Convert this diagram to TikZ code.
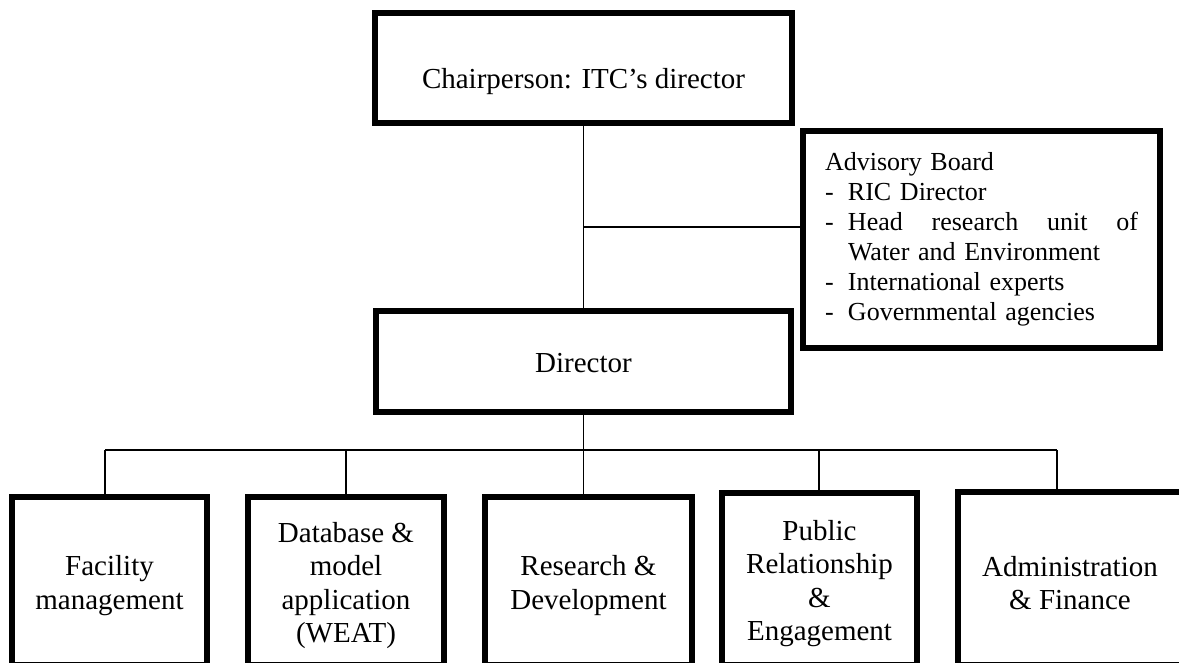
\documentclass[tikz,border=0pt]{standalone}
\usepackage{fontspec}
\setmainfont{Liberation Serif}
\newcommand{\liftstrut}{\rule{0pt}{29pt}}
\begin{document}
\begin{tikzpicture}[x=1pt,y=-1pt,
	box/.style={draw,line width=5.2pt,align=center,inner sep=0pt,font=\fontsize{29}{33.5}\selectfont},
	link/.style={line width=1.5pt}]
	\useasboundingbox (0,0) rectangle (1179,662);
	\clip (0,0) rectangle (1179,662);
	% top of the chart
	\node[box,minimum width=417,minimum height=110,text height=40pt,text depth=0pt] (chair) at (583.5,68) {Chairperson: ITC's director};
	\node[box,minimum width=415,minimum height=101,text height=21pt,text depth=0pt] (dir) at (583.5,361.5) {Director};
	\node[box,align=left,text width=313pt,minimum width=357,minimum height=217,font=\fontsize{26}{30}\selectfont] (adv) at (981.5,239.5)
		{Advisory Board\\
		\makebox[23pt][l]{-}RIC Director\\
		\makebox[23pt][l]{-}\makebox[290pt]{Head\hfill research\hfill unit\hfill of}\\
		\hspace*{23pt}Water and Environment\\
		\makebox[23pt][l]{-}International experts\\
		\makebox[23pt][l]{-}Governmental agencies};
	% units
	\node[box,minimum width=195,minimum height=168] (b1) at (109.5,581) {\liftstrut Facility\\management};
	\node[box,minimum width=196,minimum height=168] (b2) at (346,581) {\liftstrut Database \&\\model\\application\\(WEAT)};
	\node[box,minimum width=207,minimum height=168] (b3) at (588.5,581) {\liftstrut Research \&\\Development};
	\node[box,minimum width=195,minimum height=172] (b4) at (819.5,579) {\liftstrut Public\\Relationship\\\&\\Engagement};
	\node[box,minimum width=224,minimum height=173] (b5) at (1070,578.5) {\liftstrut Administration\\\& Finance};
	% connectors
	\coordinate (j) at (583.5,227);
	\foreach \n/\x in {1/105,2/346,3/583.5,4/819,5/1057}
		\coordinate (t\n) at (\x,450);
	\draw[link] (chair.south) -- (dir.north);
	\draw[link] (j) -- (j -| adv.west);
	\draw[link] (dir.south) -- (t3);
	\draw[link] (t1) -- (t5);
	\foreach \n in {1,...,5}
		\draw[link] (t\n) -- (t\n |- b\n.north);
\end{tikzpicture}
\end{document}
